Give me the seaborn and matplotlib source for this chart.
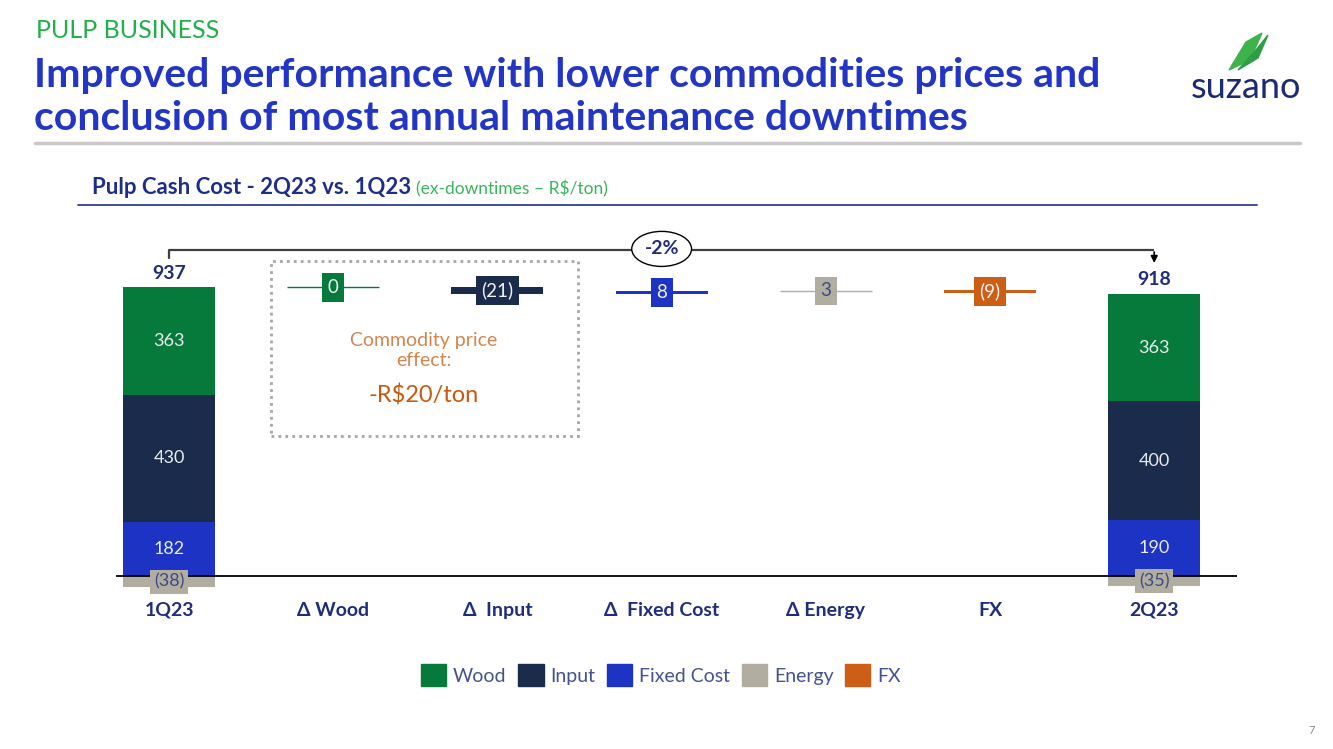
import matplotlib
matplotlib.use("Agg")
import matplotlib.pyplot as plt
from matplotlib.patches import Rectangle, Polygon, Patch
import numpy as np
import pandas as pd
import seaborn as sns

# ========== DONNEES ==========
categories = ["1Q23", "Δ Wood", "Δ  Input", "Δ  Fixed Cost", "Δ Energy", "FX", "2Q23"]
components = ["Wood", "Input", "Fixed Cost", "Energy"]
q1_values = [363, 430, 182, -38]
q2_values = [363, 400, 190, -35]
delta_names = ["Wood", "Input", "Fixed Cost", "Energy", "FX"]
delta_values = [0, -21, 8, 3, -9]
delta_labels = ["0", "(21)", "8", "3", "(9)"]
totals = [937, 918]
change_label = "-2%"

colors = {
    "Wood": "#067a3a",
    "Input": "#1a2b4c",
    "Fixed Cost": "#1c33c4",
    "Energy": "#b2ada1",
    "FX": "#cc5f15",
}
NAVY = "#1f2d7a"
TITLE_BLUE = "#2235c4"
FONT = ["Lato", "DejaVu Sans"]

sns.set_theme(style="white")
plt.rcParams["font.family"] = FONT

fig = plt.figure(figsize=(13.33, 7.49), dpi=100)

# ========== AXE PRINCIPAL ==========
ax = fig.add_axes([116 / 1333, 1 - 590 / 749, 1121 / 1333, 360 / 749])

# barres empilees (superposition du haut vers le bas)
stack_df = pd.DataFrame({"cat": ["1Q23", "2Q23"]})
for i, comp in enumerate(components[:3]):
    stack_df[comp] = [sum(q1_values[i:3]), sum(q2_values[i:3])]
stack_df["Energy"] = [q1_values[3], q2_values[3]]
for comp in components:
    sns.barplot(data=stack_df, x="cat", y=comp, order=categories, color=colors[comp],
                saturation=1, width=0.56, linewidth=0, errorbar=None, ax=ax)

# labels dans les barres
for xi, vals in [(0, q1_values), (6, q2_values)]:
    for i, comp in enumerate(components[:3]):
        hi = sum(vals[i:3])
        lo = sum(vals[i + 1:3])
        ax.text(xi, (hi + lo) / 2, f"{vals[i]}", ha="center", va="center",
                color="#e8ecef", fontsize=13)
    ax.text(xi, vals[3] / 2, f"({-vals[3]})", ha="center", va="center",
            color="#3b4a82", fontsize=13,
            bbox=dict(boxstyle="square,pad=0.22", fc=colors["Energy"], ec="none"))

# totaux
for xi, vals, tot in [(0, q1_values, totals[0]), (6, q2_values, totals[1])]:
    ax.annotate(f"{tot}", (xi, sum(vals[:3])), xytext=(0, 4), textcoords="offset points",
                ha="center", va="bottom", color=NAVY, fontsize=14, fontweight="bold")

# variations (cascade)
cum = sum(q1_values[:3])
for k, (name, d, lab) in enumerate(zip(delta_names, delta_values, delta_labels)):
    xi = k + 1
    if abs(d) < 4:
        ax.hlines(cum + d / 2, xi - 0.28, xi + 0.28, color=colors[name], lw=1)
    else:
        ax.bar(xi, d, bottom=cum, width=0.56, color=colors[name], linewidth=0)
    txt_color = "#3b4a82" if name == "Energy" else "#f2f2f2"
    ax.text(xi, cum + d / 2, lab, ha="center", va="center", fontsize=13.5, color=txt_color,
            bbox=dict(boxstyle="square,pad=0.3", fc=colors[name], ec="none"))
    cum += d

# cadre effet prix commodities
ax.add_patch(Rectangle((0.621, 473), 2.491 - 0.621, 1064 - 473, fill=False,
                       ec="#a6a6a6", lw=2, ls=(0, (1, 1.5))))
ax.text(1.55, 763, "Commodity price\neffect:", ha="center", va="center",
        color="#d3864f", fontsize=14, linespacing=1.2)
ax.text(1.55, 611, "-R$20/ton", ha="center", va="center", color="#c55a11", fontsize=17)

# accolade -2%
yb = 1101
ax.plot([0, 6], [yb, yb], color="#404040", lw=1.6, solid_capstyle="butt")
ax.plot([0, 0], [yb, 1074], color="#404040", lw=1.6)
ax.annotate("", xy=(6, 1048), xytext=(6, yb + 3),
            arrowprops=dict(arrowstyle="-|>", color="black", lw=1.2, mutation_scale=10))
ax.text(3, 1105, change_label, ha="center", va="center", color=NAVY, fontsize=14,
        fontweight="bold",
        bbox=dict(boxstyle="ellipse,pad=0.2", fc="white", ec="black", lw=1))

ax.axhline(0, color="black", lw=1.3)
ax.set_xlim(-0.323, 6.504)
ax.set_ylim(-47.3, 1168.9)
ax.set_yticks([])
ax.set_xticks([])
ax.set_xlabel("")
ax.set_ylabel("")
for xi, cat in enumerate(categories):
    ax.text(xi, -0.072, cat, transform=ax.get_xaxis_transform(), ha="center", va="baseline",
            color=NAVY, fontsize=14, fontweight="bold")
sns.despine(ax=ax, left=True, bottom=True)
ax.patch.set_alpha(0)

# ========== LEGENDE ==========
handles = [Patch(color=colors[n], label=n) for n in delta_names]
leg = fig.legend(handles=handles, loc="center", bbox_to_anchor=(661 / 1333, 1 - 675 / 749),
                 ncol=5, frameon=False, fontsize=14, handlelength=1.3, handleheight=1.3,
                 handletextpad=0.35, columnspacing=0.6)
for t in leg.get_texts():
    t.set_color("#44538f")

# ========== EN-TETE ==========
fig.text(36 / 1333, 1 - 31 / 749, "PULP BUSINESS", color="#22ae48", fontsize=18,
         va="center", ha="left")
fig.text(34 / 1333, 1 - 76 / 749, "Improved performance with lower commodities prices and",
         color=TITLE_BLUE, fontsize=29.5, fontweight="bold", va="center", ha="left")
fig.text(34 / 1333, 1 - 119 / 749, "conclusion of most annual maintenance downtimes",
         color=TITLE_BLUE, fontsize=29.5, fontweight="bold", va="center", ha="left")
fig.add_artist(plt.Line2D([35 / 1333, 1300 / 1333], [1 - 143 / 749] * 2,
                          color="#c9c9c9", lw=2.5))

# logo
fig.add_artist(Polygon([(1229 / 1333, 1 - 70 / 749), (1246 / 1333, 1 - 42 / 749),
                        (1262 / 1333, 1 - 33 / 749), (1250 / 1333, 1 - 60 / 749)],
                       closed=True, color="#3fb24b", transform=fig.transFigure))
fig.add_artist(Polygon([(1238 / 1333, 1 - 70 / 749), (1258 / 1333, 1 - 58 / 749),
                        (1268 / 1333, 1 - 35 / 749), (1256 / 1333, 1 - 50 / 749)],
                       closed=True, color="#2e9e46", transform=fig.transFigure))
fig.text(1246 / 1333, 1 - 88 / 749, "suzano", color="#1b2a72", fontsize=26,
         va="center", ha="center")

# sous-titre
t1 = fig.text(92 / 1333, 1 - 188 / 749, "Pulp Cash Cost - 2Q23 vs. 1Q23 ", color="#1f2d8a",
              fontsize=16, fontweight="bold", va="center", ha="left")
fig.canvas.draw()
bb = t1.get_window_extent()
fig.text(bb.x1 / 1333, 1 - 189 / 749, "(ex-downtimes – R$/ton)", color="#3bb55a",
         fontsize=12.5, va="center", ha="left")
fig.add_artist(plt.Line2D([78 / 1333, 1257 / 1333], [1 - 205 / 749] * 2,
                          color="#2f3f8f", lw=1.3))

fig.text(1312 / 1333, 1 - 730 / 749, "7", color="#8a8a8a", fontsize=8, ha="center", va="center")

fig.savefig("out.png", dpi=100)
